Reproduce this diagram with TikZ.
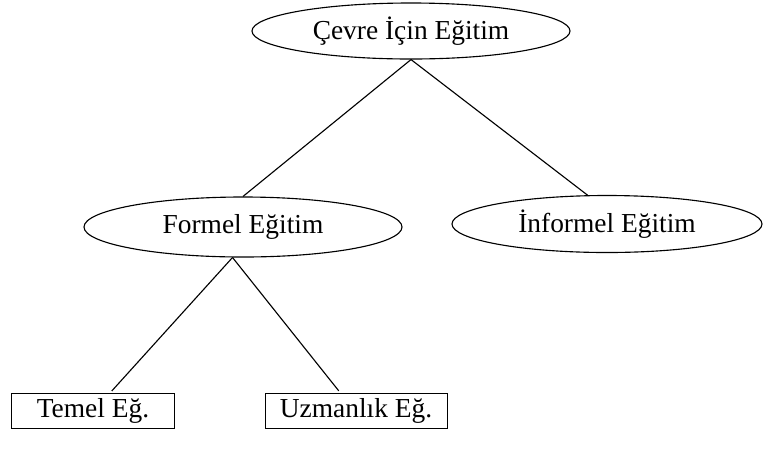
\documentclass[tikz,border=0pt]{standalone}
\usepackage{fontspec}
\setmainfont{Liberation Serif}
\usepackage{tikz}
\usetikzlibrary{positioning, calc, shapes.geometric}

\begin{document}
\begin{tikzpicture}[x=0.025cm, y=-0.025cm,
        every node/.style={font=\fontsize{19.5}{23}\selectfont},
        oval/.style={draw, ellipse, line width=0.8pt, inner sep=0pt, minimum width=310*0.025cm, minimum height=56*0.025cm},
        kutu/.style={draw, rectangle, line width=0.6pt, inner sep=0pt, minimum height=35*0.025cm},
        bag/.style={line width=0.8pt}]
        \useasboundingbox (0,0) rectangle (764,456);

        % Draw ovals
        \node[oval, minimum width=318*0.025cm] (cevre) at (411,31) {Çevre İçin Eğitim};
        \node[oval, minimum width=318*0.025cm, minimum height=60*0.025cm] (formel) at (243,227) {Formel Eğitim};
        \node[oval, minimum height=57*0.025cm] (informel) at (607,224) {İnformel Eğitim};

        % Draw boxes
        \node[kutu, minimum width=163*0.025cm] (temel) at (93,411) {Temel Eğ.};
        \node[kutu, minimum width=182*0.025cm] (uzman) at (356,411) {Uzmanlık Eğ.};

        % Draw links
        \draw[bag] (cevre.south) -- (formel.north);
        \draw[bag] (cevre.south) -- (informel.124);
        \draw[bag, shorten >=2pt] (formel.251) -- ([xshift=12pt]temel.north);
        \draw[bag, shorten >=2pt] (formel.251) -- ([xshift=-11pt]uzman.north);
    \end{tikzpicture}
\end{document}
